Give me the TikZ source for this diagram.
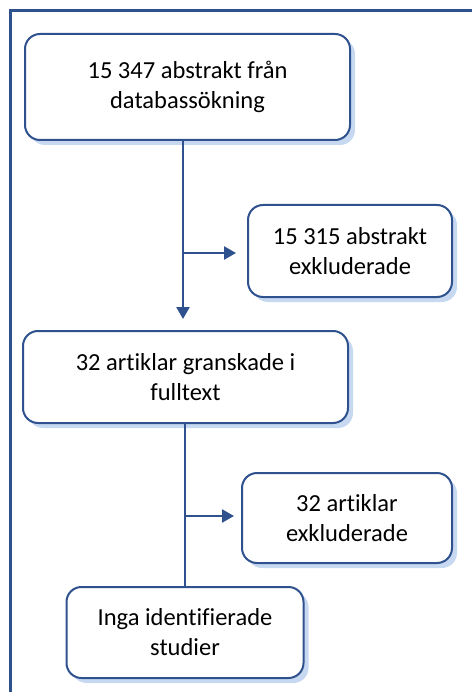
\documentclass[tikz,border=0pt]{standalone}
\usepackage{fontspec}
\setmainfont{Carlito}[Ligatures=NoCommon]
\usetikzlibrary{arrows.meta,shadows}
\definecolor{dblue}{HTML}{2F528F}
\definecolor{lblue}{HTML}{C6D9F1}
\begin{document}
\begin{tikzpicture}[x=1pt,y=-1pt,
  box/.style={draw=dblue, line width=2pt, rounded corners=15pt, fill=white,
    align=center, font=\fontsize{24.5}{30}\selectfont, inner sep=0pt,
    drop shadow={shadow xshift=5pt, shadow yshift=-5pt, fill=lblue, opacity=1}},
  conn/.style={draw=dblue, line width=2.5pt},
  arr/.style={conn, -{Triangle[length=12pt,width=13pt]}},
  frame/.style={draw=dblue, line width=3pt}]
\useasboundingbox (0,0) rectangle (472,692);
\draw[frame] (10,692) -- (10,11) -- (472,11);

\node[box, minimum width=325pt, minimum height=106pt] (b1) at (187.5,87) {15 347 abstrakt från\\databassökning};
\node[box, minimum width=204pt, minimum height=92pt] (b2) at (350,251) {15 315 abstrakt\\exkluderade};
\node[box, minimum width=325pt, minimum height=92pt] (b3) at (185.5,377) {32 artiklar granskade i\\fulltext};
\node[box, minimum width=210pt, minimum height=90pt] (b4) at (347,518) {32 artiklar\\exkluderade};
\node[box, minimum width=237pt, minimum height=91pt] (b5) at (185,632.5) {Inga identifierade\\studier};

\coordinate (x1) at (183,0);
\coordinate (x2) at (185,0);
\coordinate (j1) at (183,253);
\coordinate (j2) at (185,516);

\draw[arr, shorten >=11pt] (b1.south -| x1) -- (b3.north -| x1);
\draw[arr, shorten >=11pt] (j1) -- (b2.west |- j1);
\draw[conn] (b3.south -| x2) -- (b5.north -| x2);
\draw[arr, shorten >=7pt] (j2) -- (b4.west |- j2);
\end{tikzpicture}
\end{document}
